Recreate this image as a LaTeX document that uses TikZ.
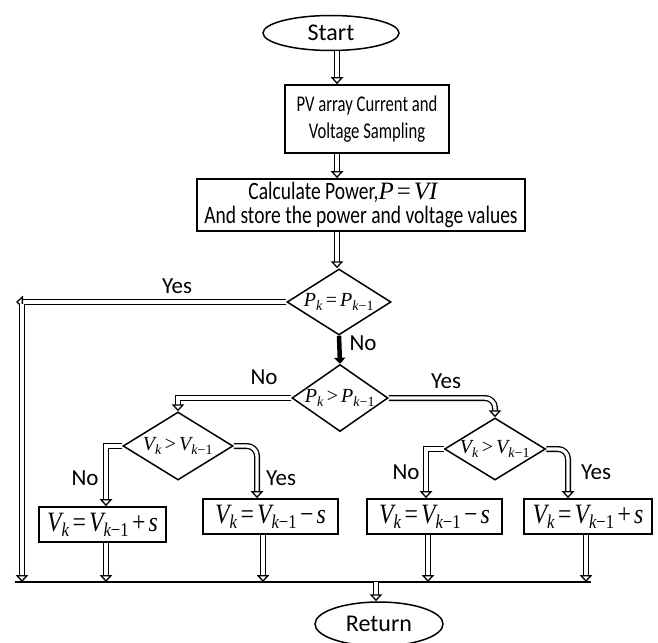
\documentclass[tikz,border=0pt]{standalone}
\usepackage{fontspec}
\setmainfont{Carlito}
\newfontfamily\narrowfont[FakeStretch=0.78]{Carlito}
\newfontfamily\narrowerfont[FakeStretch=0.74]{Carlito}
\newfontfamily\tnr{Liberation Serif}
\newfontfamily\tnrn[FakeStretch=0.85]{Liberation Serif}
\usetikzlibrary{shapes.geometric,arrows.meta}
\newcommand\iv[1]{{\tnr\itshape #1}}
\newcommand\op[1]{{\tnr #1}}
\newcommand\sbk{\textsubscript{\tnr\itshape k}}
\newcommand\sbkm{\textsubscript{\tnr{\itshape k}−1}}
\newcommand\opsp{\kern3pt}
\newcommand\eqv[1]{{\tnrn\itshape #1}}
\newcommand\eqo[1]{{\tnrn #1}}
\newcommand\esbk{\textsubscript{\tnrn\itshape k}}
\newcommand\esbkm{\textsubscript{\tnrn{\itshape k}−1}}
\begin{document}
\begin{tikzpicture}[x=1pt,y=-1pt,
  box/.style={draw, line width=1.7pt, rectangle, inner sep=0pt, align=center},
  term/.style={draw, line width=1.5pt, ellipse, inner sep=0pt, font=\fontsize{24}{28}\selectfont},
  dec/.style={draw, line width=1.5pt, diamond, inner sep=0pt, font=\fontsize{20}{22}\selectfont},
  blk/.style={line width=1.3pt, double, double distance=3.4pt, -{Triangle[open,length=7pt,width=12.5pt]}},
  solidarrow/.style={line width=4.5pt, -{Triangle[length=6pt,width=11pt]}},
  lbl/.style={font=\fontsize{23}{26}\selectfont, inner sep=0pt},
  eqn/.style={font=\fontsize{28}{30}\selectfont}]
\useasboundingbox (0,0) rectangle (658,642);

% nodes
\node[term, minimum width=136pt, minimum height=35pt] (start) at (331,33) {Start};
\node[box, minimum width=164pt, minimum height=68pt, font=\narrowerfont\fontsize{22.5}{27}\selectfont] (b1) at (367,119) {PV array Current and\\Voltage Sampling};
\node[box, minimum width=328pt, minimum height=52pt, font=\narrowfont\fontsize{25}{24}\selectfont] (b2) at (361,205) {Calculate Power,\iv{P}\kern3pt\op{=}\kern3pt\iv{VI}\hspace*{36pt}\\And store the power and voltage values};
\node[dec, minimum width=104pt, minimum height=66pt] (d1) at (339,302) {\makebox[0pt]{\iv{P}\sbk\opsp\op{=}\opsp\iv{P}\sbkm}};
\node[dec, minimum width=96pt, minimum height=67pt] (d2) at (340,398) {\makebox[0pt]{\iv{P}\sbk\opsp\op{>}\opsp\iv{P}\sbkm}};
\node[dec, minimum width=110pt, minimum height=68pt] (d3) at (178,446) {\makebox[0pt]{\iv{V}\sbk\opsp\op{>}\opsp\iv{V}\sbkm}};
\node[dec, minimum width=101pt, minimum height=62pt] (d4) at (495,449) {\makebox[0pt]{\iv{V}\sbk\opsp\op{>}\opsp\iv{V}\sbkm}};
\node[box, eqn, minimum width=127pt, minimum height=35pt] (bA) at (102.5,524.5) {\eqv{V}\esbk\opsp\eqo{=}\opsp\eqv{V}\esbkm\opsp\eqo{+}\opsp\eqv{s}};
\node[box, eqn, minimum width=135pt, minimum height=35pt] (bB) at (270.5,516.5) {\eqv{V}\esbk\opsp\eqo{=}\opsp\eqv{V}\esbkm\opsp\eqo{−}\opsp\eqv{s}};
\node[box, eqn, minimum width=135pt, minimum height=35pt] (bC) at (434.5,516.5) {\eqv{V}\esbk\opsp\eqo{=}\opsp\eqv{V}\esbkm\opsp\eqo{−}\opsp\eqv{s}};
\node[box, eqn, minimum width=128pt, minimum height=35pt] (bD) at (588,516.5) {\eqv{V}\esbk\opsp\eqo{=}\opsp\eqv{V}\esbkm\opsp\eqo{+}\opsp\eqv{s}};
\node[term, minimum width=128pt, minimum height=44pt] (ret) at (379,624) {Return};

% coordinates
\coordinate (spine) at (337,0);
\coordinate (yesend) at (16,302);
\coordinate (ltop) at (22,304);
\coordinate (lbot) at (22,582);
\coordinate (busL) at (15,582);
\coordinate (busR) at (591,582);
\coordinate (xA) at (106,0);
\coordinate (xB) at (257,0);
\coordinate (xBo) at (263,0);
\coordinate (xC) at (426,0);
\coordinate (xCo) at (428,0);
\coordinate (xD) at (568,0);
\coordinate (xDo) at (586,0);
\coordinate (xR) at (376,0);

% main spine
\draw[blk] (start.south -| spine) -- (b1.north -| spine);
\draw[blk] (b1.south -| spine) -- (b2.north -| spine);
\draw[blk] (b2.south -| spine) -- (d1.north -| spine);
% d1 yes
\draw[blk] (d1.west) -- (yesend);
\node[lbl] (lyes1) at (177,286) {Yes};
\draw[blk] (ltop) -- (lbot);
% d1 no
\draw[solidarrow] (d1.south) -- (d2.north);
\node[lbl] (lno1) at (363,343) {No};
% d2 no
\draw[blk] (d2.west) -- (d2.west -| d3.north) -- (d3.north);
\node[lbl] (lno2) at (264,377) {No};
% d2 yes
\draw[blk, rounded corners=10pt] (d2.east) -- (d2.east -| d4.north) -- (d4.north);
\node[lbl] (lyes2) at (446,381) {Yes};
% d3
\draw[blk] (d3.west) -- (d3.west -| xA) -- (bA.north -| xA);
\node[lbl] (lno3) at (85,478) {No};
\draw[blk, rounded corners=10pt] (d3.east) -- (d3.east -| xB) -- (bB.north -| xB);
\node[lbl] (lyes3) at (281,478) {Yes};
% d4
\draw[blk] (d4.west) -- (d4.west -| xC) -- (bC.north -| xC);
\node[lbl] (lno4) at (406,472) {No};
\draw[blk, rounded corners=10pt] (d4.east) -- (d4.east -| xD) -- (bD.north -| xD);
\node[lbl] (lyes4) at (596,472) {Yes};
% boxes to bus
\draw[blk] (bA.south -| xA) -- (busL -| xA);
\draw[blk] (bB.south -| xBo) -- (busL -| xBo);
\draw[blk] (bC.south -| xCo) -- (busL -| xCo);
\draw[blk] (bD.south -| xDo) -- (busL -| xDo);
\draw[line width=1.5pt] (busL) -- (busR);
\draw[blk] (busL -| xR) -- (ret.north -| xR);
\end{tikzpicture}
\end{document}
